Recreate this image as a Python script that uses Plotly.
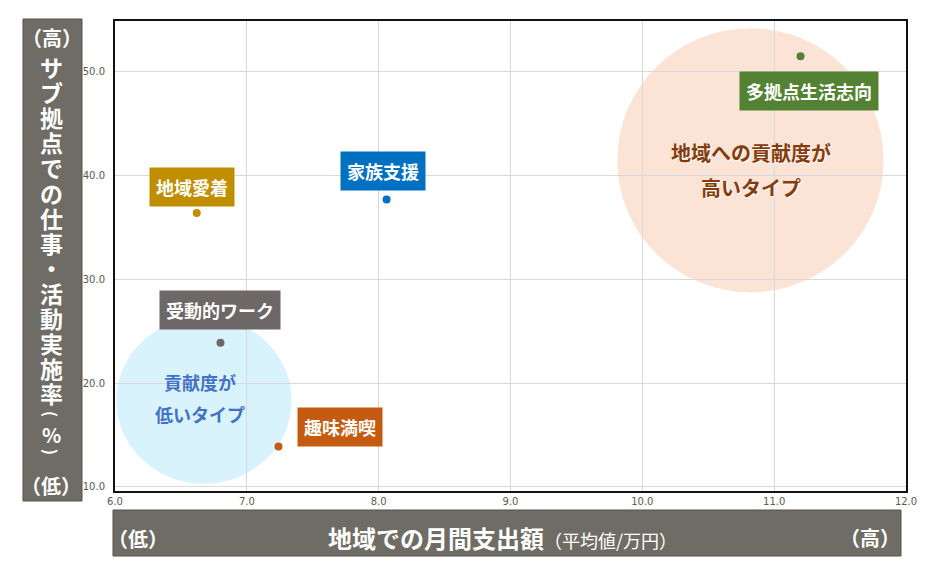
import plotly.graph_objects as go

# data
types = ["地域愛着", "家族支援", "受動的ワーク", "趣味満喫", "多拠点生活志向"]
spend = [6.62, 8.06, 6.80, 7.24, 11.20]          # 地域での月間支出額（万円）
rate = [36.4, 37.7, 23.9, 13.9, 51.5]             # サブ拠点での仕事・活動実施率（%）
colors = ["#bf8f00", "#0070c0", "#6d6767", "#c55a11", "#548235"]
# label offset from its point, in pixels (dx, dy up)
label_shift = [(-5, 26), (-4, 28), (0, 33), (62, 19), (8, -35)]

x_ticks = [6.0, 7.0, 8.0, 9.0, 10.0, 11.0, 12.0]
y_ticks = [10.0, 20.0, 30.0, 40.0, 50.0]

# page body has an 8px margin, so the figure is drawn 8px in from the corner
PAGE = 8
W, H = 931, 570
L, T = 115 - PAGE, 21 - PAGE
R, B = W - (906 - PAGE), H - (491 - PAGE)
FONT_JP = "Noto Sans CJK JP"
BOX_GRAY = "#6e6c65"


# screen pixel -> paper coordinates
def px(xp):
    return (xp - PAGE - L) / (W - L - R)


def py(yp):
    return (H - B - (yp - PAGE)) / (H - T - B)


def label(x, y, text, size, color="white", **kw):
    fig.add_annotation(xref="paper", yref="paper", x=px(x), y=py(y), text=text,
                       showarrow=False, xanchor="center", yanchor="middle",
                       font=dict(family=FONT_JP, size=size, color=color), **kw)


fig = go.Figure()

fig.add_trace(go.Scatter(
    x=spend, y=rate, mode="markers",
    marker=dict(size=8, color=colors),
    hoverinfo="skip", showlegend=False))

# background circles
fig.add_shape(type="circle", xref="x", yref="y", x0=6.01, x1=7.34, y0=10.3, y1=26.35,
              fillcolor="#d9f3fd", line_width=0, layer="below")
fig.add_shape(type="circle", xref="x", yref="y", x0=9.81, x1=11.83, y0=28.75, y1=54.2,
              fillcolor="#fbe4d6", line_width=0, layer="below")

# circle captions
for txt, yy in [("貢献度が", 20.1), ("低いタイプ", 17.0)]:
    fig.add_annotation(x=6.645, y=yy, text="<b>" + txt + "</b>", showarrow=False,
                       font=dict(family=FONT_JP, size=18, color="#4472c4"))
for txt, yy in [("地域への貢献度が", 42.2), ("高いタイプ", 38.9)]:
    fig.add_annotation(x=10.826, y=yy, text="<b>" + txt + "</b>", showarrow=False,
                       font=dict(family=FONT_JP, size=20, color="#843c0c",
                                 shadow="1px 1px 1px #ffffff"))

# point labels
for name, xv, yv, c, (dx, dy) in zip(types, spend, rate, colors, label_shift):
    fig.add_annotation(x=xv, y=yv, text="<b>" + name + "</b>", showarrow=False,
                       xshift=dx, yshift=dy, bgcolor=c, borderpad=6,
                       font=dict(family=FONT_JP, size=18, color="white"))

# y axis title box
fig.add_shape(type="rect", xref="paper", yref="paper",
              x0=px(23), x1=px(82), y0=py(501), y1=py(19),
              fillcolor=BOX_GRAY, line=dict(color="#55534d", width=1))
label(52, 37, "<b>（高）</b>", 20)
label(51, 485, "<b>（低）</b>", 20)
y_title = "サブ拠点での仕事・活動実施率"
ypos = 67
for ch in y_title:
    label(51, ypos, "<b>" + ch + "</b>", 23)
    ypos += 25.1
label(51, 414, "<b>(</b>", 16, textangle=90)
label(51, 434, "<b>%</b>", 20)
label(51, 452, "<b>)</b>", 16, textangle=90)

# x axis title box
fig.add_shape(type="rect", xref="paper", yref="paper",
              x0=px(113), x1=px(901), y0=py(556), y1=py(510),
              fillcolor=BOX_GRAY, line=dict(color="#55534d", width=1))
label(502, 537, "<b>地域での月間支出額</b><span style='font-size:18px'>（平均値/万円）</span>", 24)
label(138, 538, "<b>（低）</b>", 20)
label(870, 537, "<b>（高）</b>", 20)

axis_common = dict(showgrid=True, gridcolor="#d9d9d9", gridwidth=1,
                   showline=True, linecolor="#111111", linewidth=2, mirror=True,
                   zeroline=False, tickformat=".1f", ticks="",
                   tickfont=dict(family="DejaVu Sans", size=10, color="#595959"))

fig.update_xaxes(range=[6.0, 12.0], tickvals=x_ticks, **axis_common)
fig.update_yaxes(range=[9.6, 54.9], tickvals=y_ticks, ticklabelstandoff=6, **axis_common)

fig.update_layout(
    width=W, height=H,
    margin=dict(l=L, r=R, t=T, b=B),
    paper_bgcolor="white", plot_bgcolor="white",
    showlegend=False)

fig.write_html("out.html")
